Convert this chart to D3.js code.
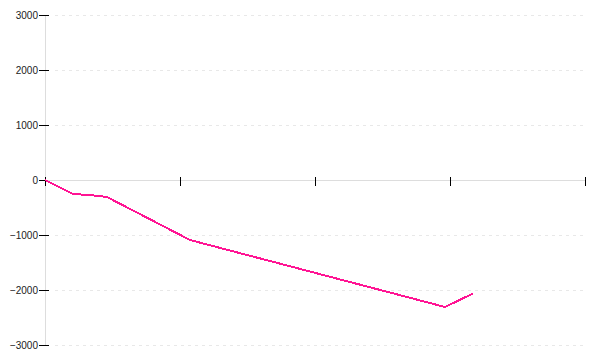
<!DOCTYPE html>
<html>
<head>
<meta charset="utf-8">
<script src="https://cdn.jsdelivr.net/npm/d3@7"></script>
<style>
  body { margin: 0; background: #fff; }
  svg { display: block; }
</style>
</head>
<body>
<svg id="chart" width="600" height="360"></svg>
<script>
const xValues = [0, 0.207, 0.333, 0.459, 1.074, 2.963, 3.170];
const yValues = [0, -255, -273, -309, -1091, -2309, -2064];
const yTicks = [-3000, -2000, -1000, 0, 1000, 2000, 3000];
const xTicks = [0, 1, 2, 3, 4];

const svg = d3.select("#chart");
const x = d3.scaleLinear().domain([0, 4]).range([45, 585]);
const y = d3.scaleLinear().domain([-3000, 3000]).range([345, 15]);

// gridlines
svg.append("g").selectAll("line")
  .data(yTicks.filter(d => d !== 0))
  .join("line")
  .attr("x1", 55).attr("x2", 583)
  .attr("y1", d => y(d) + 0.5).attr("y2", d => y(d) + 0.5)
  .attr("stroke", "#e8e8e8")
  .attr("stroke-dasharray", "3,4");

// y axis
const yAxis = svg.append("g")
  .attr("transform", "translate(45,0)")
  .call(d3.axisLeft(y).tickValues(yTicks).tickFormat(d3.format("d")).tickSize(6).tickPadding(1));
yAxis.select(".domain").attr("stroke", "#ddd").attr("d", `M0.5,${y(3000)}V${y(-3000)}`);
yAxis.selectAll(".tick line").attr("stroke", "#000").attr("x1", -6).attr("x2", 4);
yAxis.selectAll(".tick text")
  .attr("font-family", "'Liberation Sans', Arial, sans-serif")
  .attr("font-size", 10).attr("fill", "#222");

// x axis
const xAxis = svg.append("g")
  .attr("transform", `translate(0,${y(0)})`)
  .call(d3.axisBottom(x).tickValues(xTicks).tickFormat(""));
xAxis.select(".domain").attr("stroke", "#ddd").attr("d", `M${x(0)},0.5H${x(4)}`);
xAxis.selectAll(".tick line").attr("stroke", "#000").attr("y1", -3).attr("y2", 6);

// line
const pts = xValues.map((v, i) => [v, yValues[i]]);
svg.append("path")
  .datum(pts)
  .attr("fill", "none")
  .attr("stroke", "#ff1493")
  .attr("stroke-width", 2)
  .attr("shape-rendering", "crispEdges")
  .attr("d", d3.line().x(d => x(d[0])).y(d => y(d[1])));
</script>
</body>
</html>
